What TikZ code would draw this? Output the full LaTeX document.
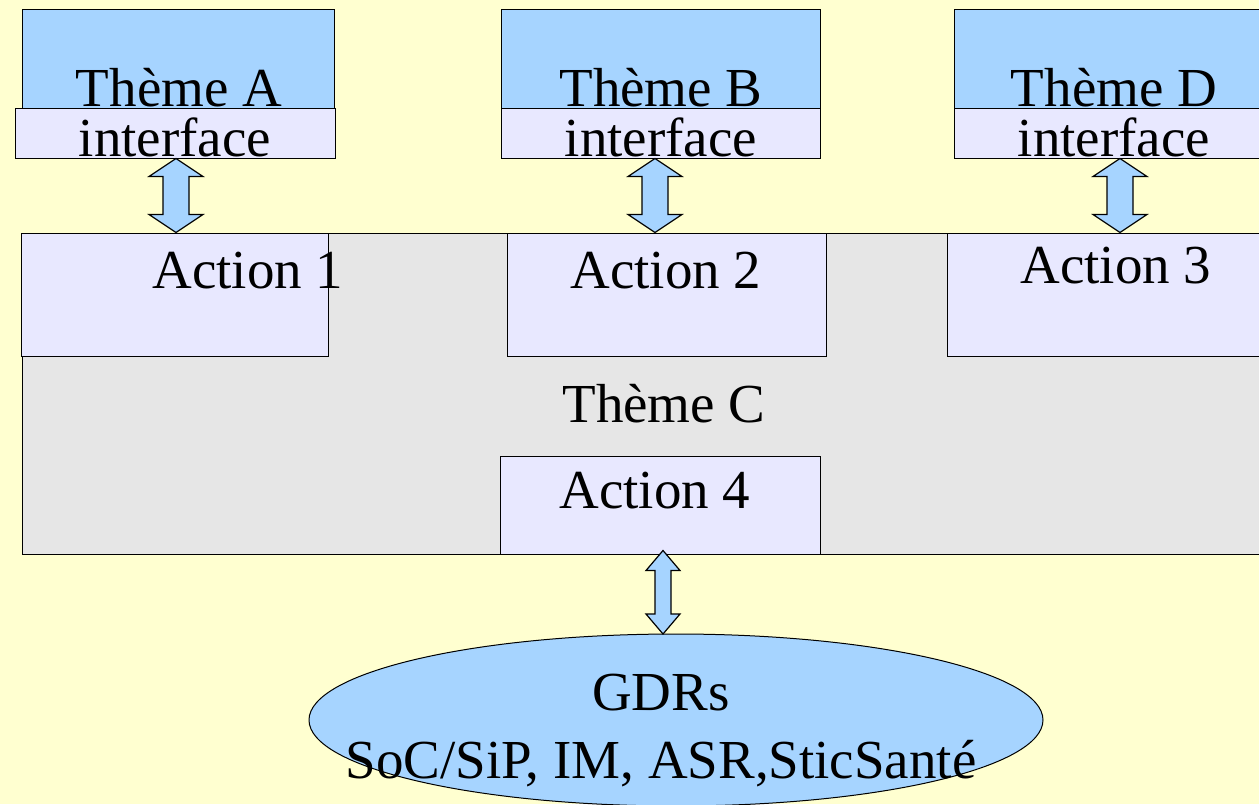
\documentclass[tikz,border=0pt]{standalone}
\usepackage{fontspec}
\setmainfont{Liberation Serif}
\usetikzlibrary{calc}
\definecolor{bgyel}{RGB}{255,255,208}
\definecolor{thblue}{RGB}{166,212,255}
\definecolor{lav}{RGB}{232,232,255}
\definecolor{cgray}{RGB}{230,230,230}
\tikzset{
  box/.style={draw=black, line width=1pt, inner sep=0pt, rectangle},
  theme/.style={box, fill=thblue},
  iface/.style={box, fill=lav},
  action/.style={box, fill=lav},
  big/.style={font=\fontsize{55}{60}\selectfont, inner sep=0pt, anchor=base},
  darr/.style={draw=black, line width=1.2pt, fill=thblue, line join=miter}
}
\newcommand\dbl[6]{%
  \draw[darr] let \p1=(#2.south), \p2=(#3.north) in
   (#1pt,\y1) -- (#1pt+#4pt,\y1-#6pt) -- (#1pt+#5pt,\y1-#6pt) -- (#1pt+#5pt,\y2+#6pt)
   -- (#1pt+#4pt,\y2+#6pt) -- (#1pt,\y2) -- (#1pt-#4pt,\y2+#6pt) -- (#1pt-#5pt,\y2+#6pt)
   -- (#1pt-#5pt,\y1-#6pt) -- (#1pt-#4pt,\y1-#6pt) -- cycle;}
\begin{document}
\begin{tikzpicture}[x=1pt,y=-1pt]
\useasboundingbox (0,0) rectangle (1259,804);
\fill[bgyel] (0,0) rectangle (1259,804);
\clip (0,0) rectangle (1259,804);
% Theme C
\node[box, fill=cgray, minimum width=1257, minimum height=321] (thC) at (650.5,393.5) {};
% Themes
\node[theme, minimum width=312, minimum height=99] (thA) at (178,58.5) {};
\node[iface, minimum width=320, minimum height=50] (ifA) at (175,133) {};
\node[theme, minimum width=319, minimum height=99] (thB) at (660.5,58.5) {};
\node[iface, minimum width=319, minimum height=50] (ifB) at (660.5,133) {};
\node[theme, minimum width=320, minimum height=99] (thD) at (1114,58.5) {};
\node[iface, minimum width=320, minimum height=50] (ifD) at (1114,133) {};
% Actions
\node[action, minimum width=307, minimum height=123] (a1) at (174.5,294.5) {};
\node[action, minimum width=319, minimum height=123] (a2) at (666.5,294.5) {};
\node[action, minimum width=320, minimum height=123] (a3) at (1107,294.5) {};
\node[action, minimum width=320, minimum height=98] (a4) at (660,505) {};
% ellipse
\draw[line width=1pt, fill=thblue] (676,720) ellipse [x radius=367, y radius=86];
\coordinate (gdr) at (676,634);
% texts
\node[big] (tA) at (179,106) {Thème A};
\node[big] (iA) at (175,156) {interface};
\node[big] (tB) at (661,106) {Thème B};
\node[big] (iB) at (661,156) {interface};
\node[big] (tD) at (1114,106) {Thème D};
\node[big] (iD) at (1114,156) {interface};
\node[big] (t1) at (248,288) {Action 1};
\node[big] (t2) at (666,288) {Action 2};
\node[big] (t3) at (1116,283) {Action 3};
\node[big] (tC) at (664,422) {Thème C};
\node[big] (t4) at (655,508) {Action 4};
\node[big] (g1) at (661,710) {GDRs};
\node[big] (g2) at (661,778) {SoC/SiP, IM, ASR,SticSanté};
% arrows
\dbl{176}{ifA}{a1}{27}{13}{18}
\dbl{655}{ifB}{a2}{27}{13}{18}
\dbl{1120}{ifD}{a3}{27}{13}{18}
\draw[darr] let \p1=($(a4.south)+(0,-4)$), \p2=(gdr) in
   (663pt,\y1) -- (680pt,\y1-20pt) -- (671pt,\y1-20pt) -- (671pt,\y2+20pt)
   -- (680pt,\y2+20pt) -- (663pt,\y2) -- (646pt,\y2+20pt) -- (655pt,\y2+20pt)
   -- (655pt,\y1-20pt) -- (646pt,\y1-20pt) -- cycle;
\end{tikzpicture}
\end{document}
